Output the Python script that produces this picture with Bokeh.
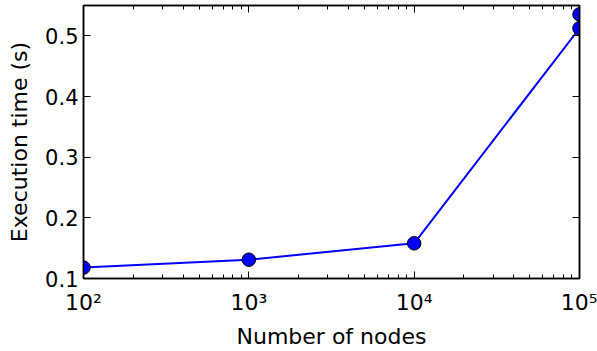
from bokeh.plotting import figure
from bokeh.models import (LogAxis, LinearAxis, FixedTicker, CustomJSTickFormatter,
                          Range1d, ColumnDataSource)
from bokeh.embed import file_html
from bokeh.resources import INLINE

# Data
nodes = [100, 1000, 10000, 100000, 100000]
exec_time = [0.118, 0.131, 0.158, 0.5125, 0.5354]
x_ticks = [100, 1000, 10000, 100000]
y_ticks = [0.1, 0.2, 0.3, 0.4, 0.5]
x_label = "Number of nodes"
y_label = "Execution time (s)"

FONT = "DejaVu Sans"
minor = [m * 10 ** k for k in range(2, 5) for m in range(2, 10)]

p = figure(width=597, height=351, x_axis_type="log",
           x_range=Range1d(100, 100000), y_range=Range1d(0.1, 0.55),
           output_backend="svg", toolbar_location=None,
           min_border_left=83, min_border_right=18,
           min_border_top=5, min_border_bottom=73)
p.background_fill_color = "white"
p.border_fill_color = "white"
p.outline_line_color = "black"
p.outline_line_width = 1.5
p.grid.visible = False

src = ColumnDataSource(dict(x=nodes, y=exec_time))
p.line("x", "y", source=src, line_color="#0000ff", line_width=2)
p.scatter("x", "y", source=src, size=13.5, fill_color="#0000ff",
          line_color="black", line_width=1)

fmt = CustomJSTickFormatter(code="""
const sup = {"0":"\u2070","1":"\u00b9","2":"\u00b2","3":"\u00b3","4":"\u2074",
             "5":"\u2075","6":"\u2076","7":"\u2077","8":"\u2078","9":"\u2079","-":"\u207b"};
const e = Math.round(Math.log10(tick));
return "10" + String(e).split("").map(c => sup[c]).join("");
""")

blank = CustomJSTickFormatter(code="return ' ';")


def style(ax, labels=True):
    ax.axis_line_color = "black"
    ax.axis_line_width = 1.5
    ax.major_tick_in = 7
    ax.major_tick_out = 0
    ax.minor_tick_in = 4
    ax.minor_tick_out = 0
    ax.major_tick_line_color = "black"
    ax.minor_tick_line_color = "black"
    ax.major_tick_line_width = 1
    ax.minor_tick_line_width = 1
    ax.major_label_text_font = FONT
    ax.axis_label_text_font = FONT
    ax.axis_label_text_font_style = "normal"
    ax.axis_label_text_color = "black"
    if labels:
        ax.major_label_text_color = "black"
        ax.major_label_text_font_size = "21px"
        ax.axis_label_text_font_size = "22px"
    else:
        ax.formatter = blank
        ax.major_label_text_font_size = "1px"
        ax.major_label_text_alpha = 0
        ax.major_label_standoff = 0


xb = p.xaxis[0]
xb.ticker = FixedTicker(ticks=x_ticks, minor_ticks=minor)
xb.formatter = fmt
xb.axis_label = x_label
xb.major_label_standoff = 11
xb.axis_label_standoff = 6
style(xb)
xb.major_label_text_font_size = "22px"

yl = p.yaxis[0]
yl.ticker = FixedTicker(ticks=y_ticks, minor_ticks=[])
yl.axis_label = y_label
yl.major_label_standoff = 5
yl.axis_label_standoff = 10
style(yl)

xt = LogAxis(ticker=FixedTicker(ticks=x_ticks, minor_ticks=minor))
style(xt, labels=False)
p.add_layout(xt, "above")

yr = LinearAxis(ticker=FixedTicker(ticks=y_ticks, minor_ticks=[]))
style(yr, labels=False)
p.add_layout(yr, "right")

open("out.html", "w").write(file_html(p, INLINE))
